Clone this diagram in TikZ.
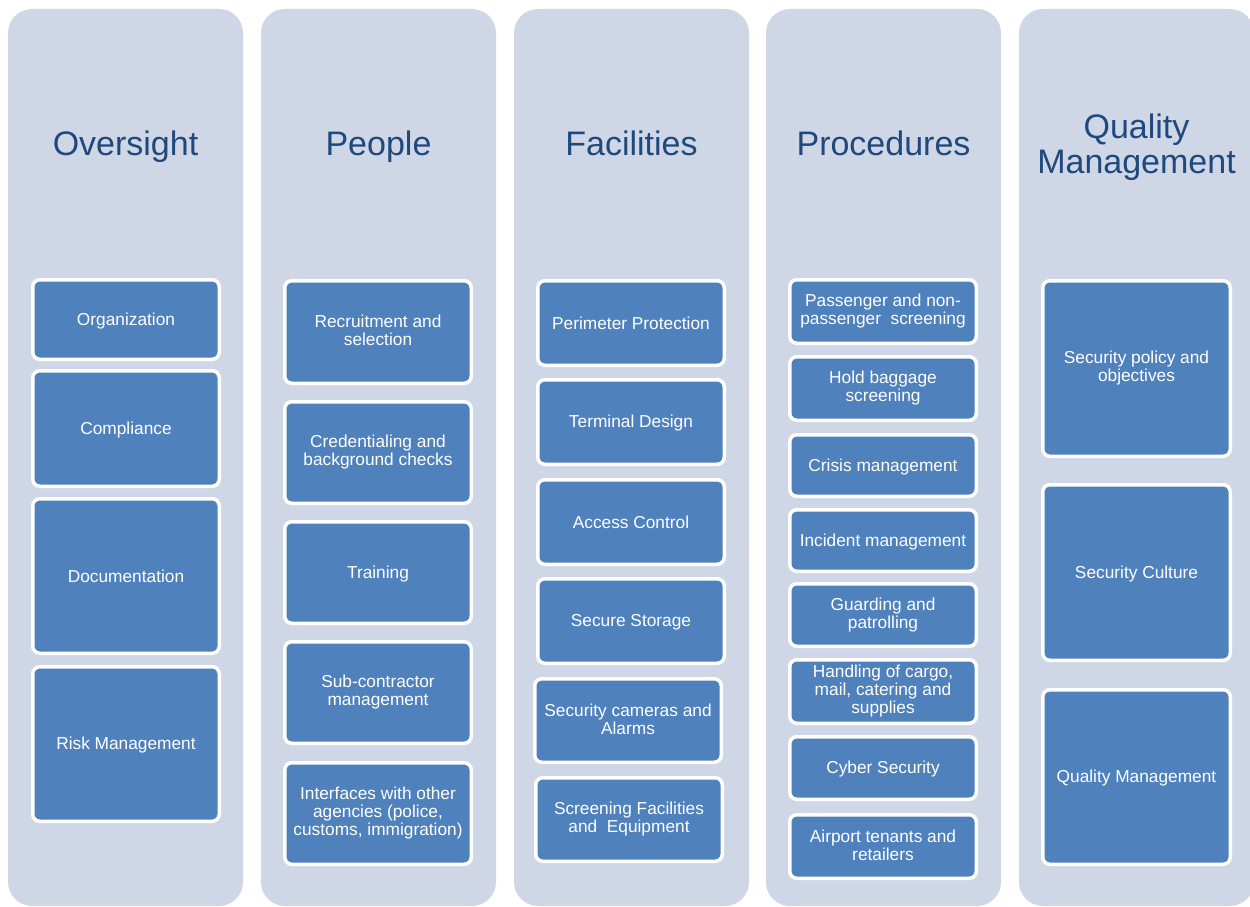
\documentclass[tikz,border=0pt]{standalone}
\usepackage{fontspec}
\setmainfont{Liberation Sans}
\definecolor{colbg}{HTML}{CFD7E6}
\definecolor{boxbl}{HTML}{4F81BD}
\definecolor{ttl}{HTML}{1F497D}
\tikzset{
  column/.style={fill=colbg, draw=none, rounded corners=24pt, inner sep=0pt},
  item/.style={fill=boxbl, draw=white, line width=3.5pt, rounded corners=7pt,
    text=white, font=\fontsize{17.3}{18}\selectfont, align=center, inner sep=0pt,
    execute at begin node={\rule{0pt}{15.3pt}},
    execute at end node={\rule[-2.7pt]{0pt}{2.7pt}}},
  ttlstyle/.style={text=ttl, font=\fontsize{34}{35}\selectfont, align=center, inner sep=0pt},
}
\newcommand\ibox[6]{\node[item, minimum width={#4-#2-3.5}, minimum height={#5-#3-3.5}] (#1) at ({(#2+#4)/2},{(#3+#5)/2}) {#6};}
\newcommand\colbox[3]{\node[column, minimum width={#3-#2}, minimum height=897] (#1) at ({(#2+#3)/2},457.5) {};}
\begin{document}
\begin{tikzpicture}[x=1pt,y=-1pt]
\useasboundingbox (0,0) rectangle (1250,907);
\fill[white] (0,0) rectangle (1250,907);
% columns
\colbox{c1}{8}{243}
\colbox{c2}{261}{496}
\colbox{c3}{514}{749}
\colbox{c4}{766}{1001}
\colbox{c5}{1019}{1254}
% titles
\node[ttlstyle, anchor=base] (t1) at (125.5,155.5) {Oversight};
\node[ttlstyle, anchor=base] (t2) at (378.5,155.5) {People};
\node[ttlstyle, anchor=base] (t3) at (631.5,155.5) {Facilities};
\node[ttlstyle, anchor=base] (t4) at (883.5,155.5) {Procedures};
\node[ttlstyle] (t5) at (1136.5,147.5) {Quality\\Management};
% Oversight
\ibox{o1}{31}{278}{221}{361}{Organization}
\ibox{o2}{31}{369}{221}{488}{Compliance}
\ibox{o3}{31}{497}{221}{655}{Documentation}
\ibox{o4}{31}{665}{221}{823}{Risk Management}
% People
\ibox{p1}{283}{279}{473}{385}{Recruitment and\\selection}
\ibox{p2}{283}{400}{473}{505}{Credentialing and\\background checks}
\ibox{p3}{283}{520}{473}{625}{Training}
\ibox{p4}{283}{640}{473}{745}{Sub-contractor\\management}
\ibox{p5}{283}{761}{473}{866}{Interfaces with other\\agencies (police,\\customs, immigration)}
% Facilities
\ibox{f1}{536}{279}{726}{367}{Perimeter Protection}
\ibox{f2}{536}{378}{726}{466}{Terminal Design}
\ibox{f3}{536}{478}{726}{566}{Access Control}
\ibox{f4}{536}{577}{726}{665}{Secure Storage}
\ibox{f5}{533}{677}{723}{764}{Security cameras and\\Alarms}
\ibox{f6}{534}{776}{724}{863}{Screening Facilities\\and\ \ Equipment}
% Procedures
\ibox{r1}{788}{278}{978}{345}{Passenger and non-\\passenger\ \ screening}
\ibox{r2}{788}{355}{978}{422}{Hold baggage\\screening}
\ibox{r3}{788}{433}{978}{498}{Crisis management}
\ibox{r4}{788}{508}{978}{573}{Incident management}
\ibox{r5}{788}{582}{978}{648}{Guarding and\\patrolling}
\ibox{r6}{788}{658}{978}{725}{Handling of cargo,\\mail, catering and\\supplies}
\ibox{r7}{788}{735}{978}{801}{Cyber Security}
\ibox{r8}{788}{813}{978}{880}{Airport tenants and\\retailers}
% Quality Management
\ibox{q1}{1041}{279}{1232}{458}{Security policy and\\objectives}
\ibox{q2}{1041}{483}{1232}{662}{Security Culture}
\ibox{q3}{1041}{688}{1232}{866}{Quality Management}
\end{tikzpicture}
\end{document}
